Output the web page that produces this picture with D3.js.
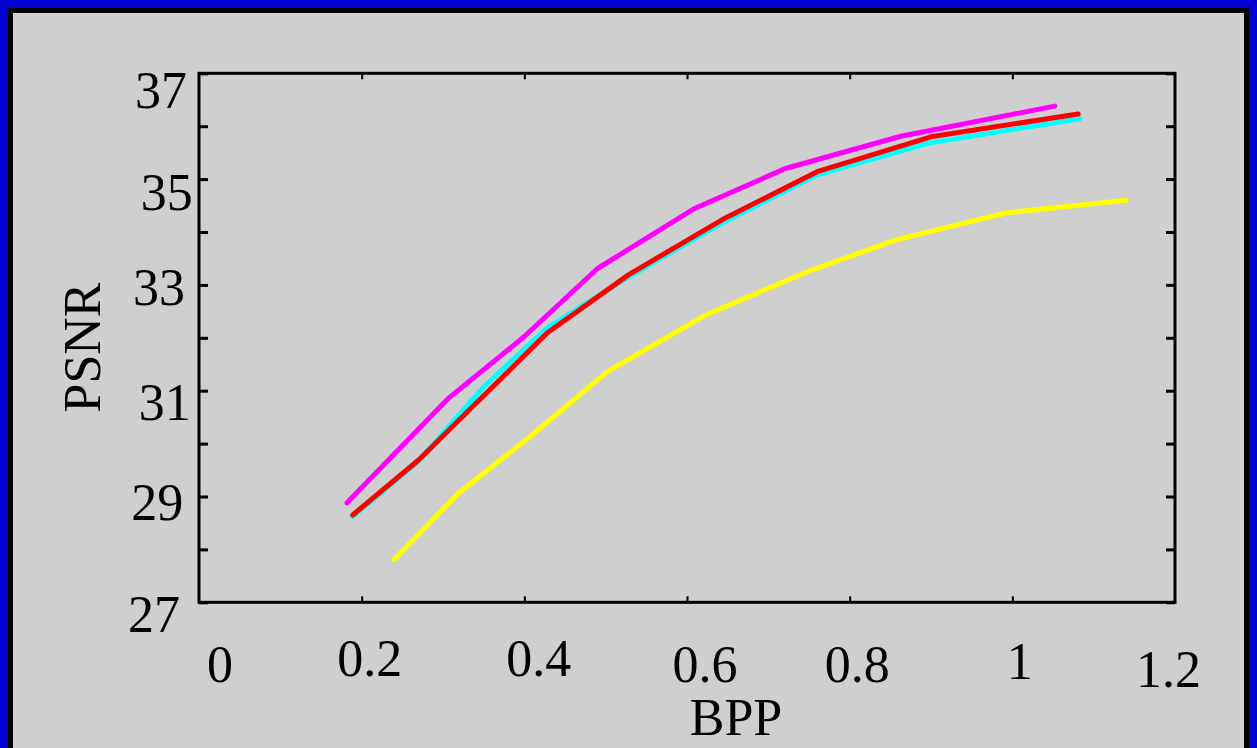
<!DOCTYPE html>
<html>
<head>
<meta charset="utf-8">
<script src="https://cdn.jsdelivr.net/npm/d3@7"></script>
<style>
  html, body { margin: 0; padding: 0; background: #cfcfcf; }
  svg { display: block; }
  text { font-family: "Liberation Serif", "Times New Roman", serif; fill: #000; }
</style>
</head>
<body>
<svg id="chart" width="1257" height="748"></svg>
<script>
// Rate–distortion curves: PSNR (dB) against bits per pixel
const bppTicks  = [0, 0.2, 0.4, 0.6, 0.8, 1, 1.2];
const psnrTicks = [27, 29, 31, 33, 35, 37];
const psnrMinor = [27, 28, 29, 30, 31, 32, 33, 34, 35, 36, 37];

const yellowBpp  = [0.240, 0.319, 0.407, 0.502, 0.623, 0.748, 0.857, 0.992, 1.140];
const yellowPsnr = [27.81, 29.06, 30.13, 31.36, 32.43, 33.25, 33.85, 34.36, 34.60];

const cyanBpp  = [0.189, 0.270, 0.350, 0.428, 0.528, 0.643, 0.760, 0.897, 1.083];
const cyanPsnr = [28.62, 29.67, 31.07, 32.19, 33.15, 34.17, 35.08, 35.68, 36.14];

const redBpp  = [0.189, 0.270, 0.428, 0.528, 0.643, 0.760, 0.900, 1.081];
const redPsnr = [28.65, 29.69, 32.09, 33.19, 34.23, 35.14, 35.80, 36.23];

const magentaBpp  = [0.182, 0.307, 0.399, 0.490, 0.610, 0.721, 0.863, 1.052];
const magentaPsnr = [28.88, 30.86, 32.01, 33.31, 34.45, 35.20, 35.81, 36.38];

const series = [
  { color: "#ffff00", bpp: yellowBpp,  psnr: yellowPsnr },
  { color: "#00ffff", bpp: cyanBpp,    psnr: cyanPsnr },
  { color: "#ff0000", bpp: redBpp,     psnr: redPsnr },
  { color: "#ff00ff", bpp: magentaBpp, psnr: magentaPsnr }
];

// Layout
const W = 1257, H = 748;
const plot = { left: 199, right: 1175, top: 73.3, bottom: 602.3 };
const fontSize = 52;
// small hand-placed offsets of each tick label (dx, dy from its tick)
const yLabelNudge = [[-19, 11.7], [-15.7, 6.3], [-8.3, 12], [-14, 2.3], [-6.3, 13], [-12, 16.7]];
const xLabelNudge = [[21, 61.7], [8, 55.7], [14.4, 55.7], [18, 62], [7.7, 62], [7.5, 58.7], [-6.4, 67]];

const svg = d3.select("#chart");

// window frame: blue band with a thin black inner edge
svg.append("rect").attr("x", 0).attr("y", 0).attr("width", W).attr("height", H).attr("fill", "#cfcfcf");
const frame = svg.append("g");
frame.append("rect").attr("x", 0).attr("y", 0).attr("width", W).attr("height", 8).attr("fill", "#0000d0");
frame.append("rect").attr("x", 0).attr("y", 0).attr("width", 8).attr("height", H).attr("fill", "#0000d0");
frame.append("rect").attr("x", W - 8).attr("y", 0).attr("width", 8).attr("height", H).attr("fill", "#0000d0");
frame.append("rect").attr("x", 8).attr("y", 8).attr("width", W - 16).attr("height", 5).attr("fill", "#000");
frame.append("rect").attr("x", 8).attr("y", 8).attr("width", 5).attr("height", H - 8).attr("fill", "#000");
frame.append("rect").attr("x", W - 13).attr("y", 8).attr("width", 5).attr("height", H - 8).attr("fill", "#000");

const x = d3.scaleLinear().domain([0, 1.2]).range([plot.left, plot.right]);
const y = d3.scaleLinear().domain([27, 37]).range([plot.bottom, plot.top]);

// inward tick marks on all four sides
const innerX = bppTicks.slice(1, -1);
function styleTicks(g, width) {
  g.select(".domain").remove();
  g.selectAll(".tick line").attr("stroke", "#000").attr("stroke-width", width);
  g.selectAll(".tick text").remove();
}
svg.append("g").attr("transform", `translate(${plot.left},0)`)
  .call(d3.axisRight(y).tickValues(psnrMinor).tickSize(9))
  .call(g => styleTicks(g, 3));
svg.append("g").attr("transform", `translate(${plot.right},0)`)
  .call(d3.axisLeft(y).tickValues(psnrMinor).tickSize(9))
  .call(g => styleTicks(g, 3));
svg.append("g").attr("transform", `translate(0,${plot.bottom})`)
  .call(d3.axisTop(x).tickValues(innerX).tickSize(6))
  .call(g => styleTicks(g, 2));
svg.append("g").attr("transform", `translate(0,${plot.top})`)
  .call(d3.axisBottom(x).tickValues(innerX).tickSize(6))
  .call(g => styleTicks(g, 2));

// plot box
svg.append("rect")
  .attr("x", plot.left).attr("y", plot.top)
  .attr("width", plot.right - plot.left).attr("height", plot.bottom - plot.top)
  .attr("fill", "none").attr("stroke", "#000").attr("stroke-width", 3);

// curves
const line = d3.line().x(d => x(d[0])).y(d => y(d[1]));
svg.append("g").selectAll("path")
  .data(series)
  .join("path")
  .attr("d", s => line(s.bpp.map((b, i) => [b, s.psnr[i]])))
  .attr("fill", "none")
  .attr("stroke", s => s.color)
  .attr("stroke-width", 5)
  .attr("stroke-linecap", "round")
  .attr("stroke-linejoin", "round");

// tick labels
svg.append("g").selectAll("text")
  .data(psnrTicks)
  .join("text")
  .attr("x", (d, i) => plot.left + yLabelNudge[i][0])
  .attr("y", (d, i) => y(d) + yLabelNudge[i][1] + 0.338 * fontSize)
  .attr("text-anchor", "end")
  .attr("font-size", fontSize)
  .text(d => d);

svg.append("g").selectAll("text")
  .data(bppTicks)
  .join("text")
  .attr("x", (d, i) => x(d) + xLabelNudge[i][0])
  .attr("y", (d, i) => plot.bottom + xLabelNudge[i][1] + 0.338 * fontSize)
  .attr("text-anchor", "middle")
  .attr("font-size", fontSize)
  .text(d => d);

// axis titles
svg.append("text")
  .attr("x", 736).attr("y", 717.5 + 0.331 * fontSize)
  .attr("text-anchor", "middle")
  .attr("font-size", fontSize)
  .text("BPP");

svg.append("text")
  .attr("transform", `translate(${83 + 0.331 * fontSize},347.5) rotate(-90)`)
  .attr("text-anchor", "middle")
  .attr("font-size", fontSize)
  .text("PSNR");
</script>
</body>
</html>
